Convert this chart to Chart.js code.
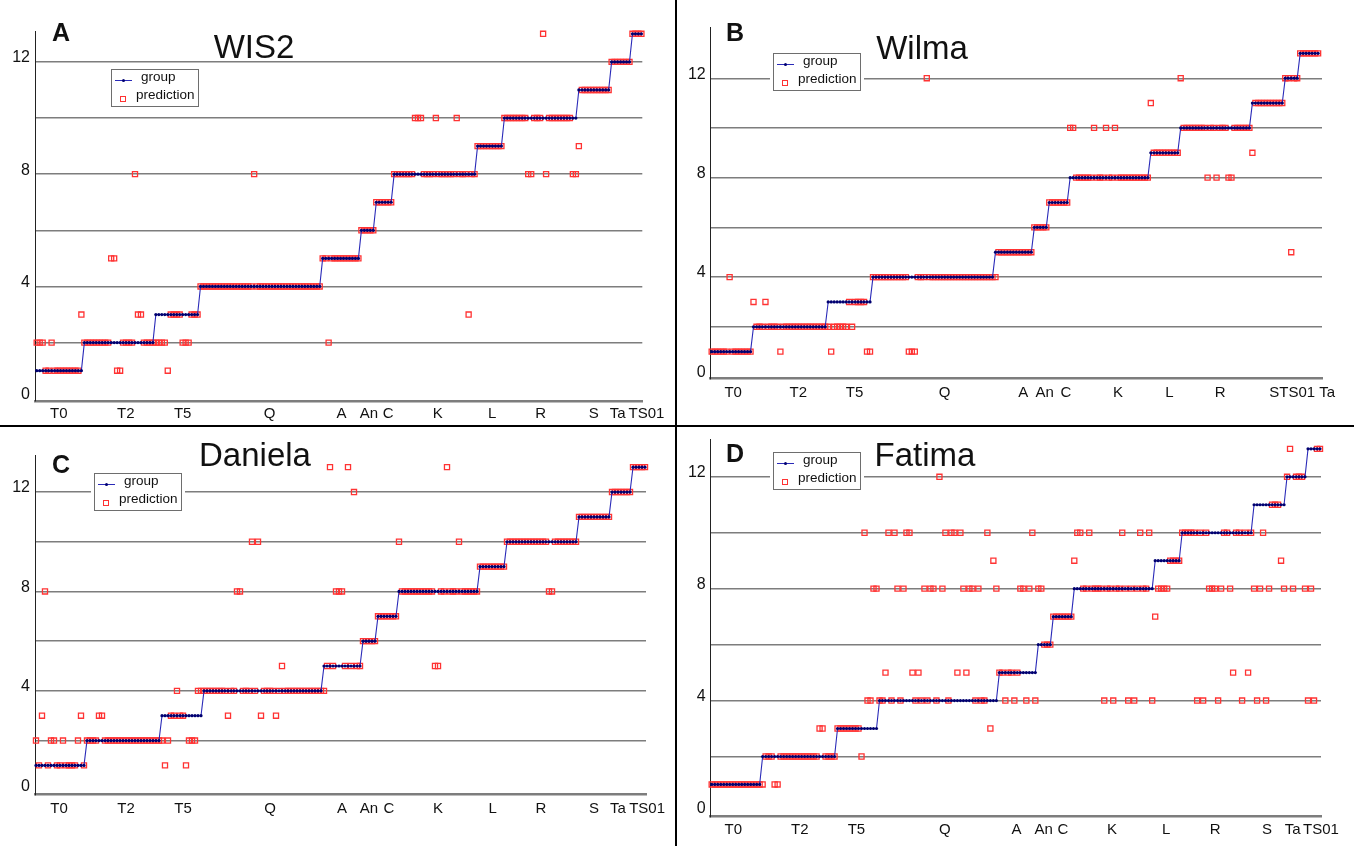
<!DOCTYPE html>
<html>
<head>
<meta charset="utf-8">
<script src="https://cdn.jsdelivr.net/npm/chart.js@4.4.1/dist/chart.umd.min.js"></script>
<style>
  html, body { margin: 0; padding: 0; background: #fff; }
  body { width: 1354px; height: 846px; position: relative; overflow: hidden; font-family: "Liberation Sans", Arial, sans-serif; color: #111; }
  .panel { position: absolute; }
  .title { position: absolute; font-size: 33px; line-height: 1; white-space: nowrap; transform: translateX(-50%); }
  .letter { position: absolute; font-size: 25px; font-weight: bold; line-height: 1; }
  .legend { position: absolute; width: 88px; height: 38px; box-sizing: border-box; border: 1.5px solid #6e6e6e; background: #fff; box-shadow: 0 0 0 3px #fff; }
  .lg-line { position: absolute; left: 2.5px; top: 9.5px; width: 17px; height: 1px; background: #2a2ab8; }
  .lg-line::after { content: ''; position: absolute; left: 7px; top: -1px; width: 3px; height: 3px; border-radius: 50%; background: #000070; }
  .lg-sq { position: absolute; left: 8px; top: 25.5px; width: 4px; height: 4px; border: 1.2px solid #ff3333; }
  .lg-t1, .lg-t2 { position: absolute; font-size: 13.5px; line-height: 16px; white-space: nowrap; }
  .lg-t1 { left: 29px; top: -1px; }
  .lg-t2 { left: 24px; top: 17px; }
  .sep { position: absolute; background: #000; }
</style>
</head>
<body>
<div class="panel" style="left:0;top:0;width:678px;height:425px"><canvas id="chartA"></canvas></div>
<div class="panel" style="left:678px;top:0;width:676px;height:425px"><canvas id="chartB"></canvas></div>
<div class="panel" style="left:0;top:425px;width:678px;height:421px"><canvas id="chartC"></canvas></div>
<div class="panel" style="left:678px;top:425px;width:676px;height:421px"><canvas id="chartD"></canvas></div>

<div class="letter" style="left:52px;top:19.5px">A</div>
<div class="letter" style="left:726px;top:19.5px">B</div>
<div class="letter" style="left:52px;top:451.5px">C</div>
<div class="letter" style="left:726px;top:441px">D</div>

<div class="title" style="left:254px;top:30px">WIS2</div>
<div class="title" style="left:922px;top:30.5px">Wilma</div>
<div class="title" style="left:255px;top:438px">Daniela</div>
<div class="title" style="left:925px;top:438px">Fatima</div>

<div class="legend" style="left:111px;top:69px"><div class="lg-line"></div><div class="lg-t1">group</div><div class="lg-sq"></div><div class="lg-t2">prediction</div></div>
<div class="legend" style="left:773px;top:53px"><div class="lg-line"></div><div class="lg-t1">group</div><div class="lg-sq"></div><div class="lg-t2">prediction</div></div>
<div class="legend" style="left:94px;top:473px"><div class="lg-line"></div><div class="lg-t1">group</div><div class="lg-sq"></div><div class="lg-t2">prediction</div></div>
<div class="legend" style="left:773px;top:452px"><div class="lg-line"></div><div class="lg-t1">group</div><div class="lg-sq"></div><div class="lg-t2">prediction</div></div>

<div class="sep" style="left:674.5px;top:0;width:2.5px;height:846px"></div>
<div class="sep" style="left:0;top:424.5px;width:1354px;height:2.5px"></div>

<script>
// category labels on the x axis, in sample-index units
const tickNames = ['T0', 'T2', 'T5', 'Q', 'A', 'An', 'C', 'K', 'L', 'R', 'S', 'Ta', 'TS01'];
const tickNamesB = ['T0', 'T2', 'T5', 'Q', 'A', 'An', 'C', 'K', 'L', 'R', 'S', 'TS01', 'Ta'];
const tickPosA = [7.4, 29.9, 49, 78.2, 102.3, 111.5, 118, 134.6, 152.9, 169.2, 187, 195, 204.7];
const tickPosB = [7.2, 29, 47.8, 78, 104.3, 111.5, 118.6, 136, 153.2, 170.2, 188.3, 196, 206];
const tickPosC = [7.7, 30, 49, 78, 102, 111, 117.6, 134, 152.2, 168.3, 186, 194, 203.7];
const tickPosD = [7.2, 29.4, 48.3, 77.8, 101.7, 110.8, 117.2, 133.6, 151.7, 168, 185.3, 193.9, 203.3];

const yGridValues = [0, 2, 4, 6, 8, 10, 12];
const yLabelValues = [0, 4, 8, 12];

// WIS2
const groupA = [
  1,1,1,1,1,1,1,1,1,1, 1,1,1,1,1,1,
  2,2,2,2,2,2,2,2,2,2, 2,2,2,2,2,2,2,2,2,2, 2,2,2,2,
  3,3,3,3,3,3,3,3,3,3, 3,3,3,3,3,
  4,4,4,4,4,4,4,4,4,4, 4,4,4,4,4,4,4,4,4,4, 4,4,4,4,4,4,4,4,4,4, 4,4,4,4,4,4,4,4,4,4, 4,
  5,5,5,5,5,5,5,5,5,5, 5,5,5,
  6,6,6,6,6,
  7,7,7,7,7,7,
  8,8,8,8,8,8,8,8,8,8, 8,8,8,8,8,8,8,8,8,8, 8,8,8,8,8,8,8,8,
  9,9,9,9,9,9,9,9,9,
  10,10,10,10,10,10,10,10,10,10, 10,10,10,10,10,10,10,10,10,10, 10,10,10,10,10,
  11,11,11,11,11,11,11,11,11,11, 11,
  12,12,12,12,12,12,12,
  13,13,13,13
];
const predA = [
  2,2,2,1,1,2,1,1,1,1, 1,1,1,1,1,3,
  2,2,2,2,2,2,2,2,2,5, 5,1,1,2,2,2,2,8,3,3, 2,2,2,2,
  2,2,2,2,1,3,3,3,3,2, 2,2,3,3,3,
  4,4,4,4,4,4,4,4,4,4, 4,4,4,4,4,4,4,4,8,4, 4,4,4,4,4,4,4,4,4,4, 4,4,4,4,4,4,4,4,4,4, 4,
  5,5,2,5,5,5,5,5,5,5, 5,5,5,
  6,6,6,6,6,
  7,7,7,7,7,7,
  8,8,8,8,8,8,8,10,10,10, 8,8,8,8,10,8,8,8,8,8, 8,10,8,8,8,3,8,8,
  9,9,9,9,9,9,9,9,9,
  10,10,10,10,10,10,10,10,8,8, 10,10,10,13,8,10,10,10,10,10, 10,10,10,8,8,
  9,11,11,11,11,11,11,11,11,11, 11,
  12,12,12,12,12,12,12,
  13,13,13,13
];

// Wilma
const groupB = [
  1,1,1,1,1,1,1,1,1,1, 1,1,1,1,
  2,2,2,2,2,2,2,2,2,2, 2,2,2,2,2,2,2,2,2,2, 2,2,2,2,2,
  3,3,3,3,3,3,3,3,3,3, 3,3,3,3,3,
  4,4,4,4,4,4,4,4,4,4, 4,4,4,4,4,4,4,4,4,4, 4,4,4,4,4,4,4,4,4,4, 4,4,4,4,4,4,4,4,4,4, 4,
  5,5,5,5,5,5,5,5,5,5, 5,5,5,
  6,6,6,6,6,
  7,7,7,7,7,7,7,
  8,8,8,8,8,8,8,8,8,8, 8,8,8,8,8,8,8,8,8,8, 8,8,8,8,8,8,8,
  9,9,9,9,9,9,9,9,9,9,
  10,10,10,10,10,10,10,10,10,10, 10,10,10,10,10,10,10,10,10,10, 10,10,10,10,
  11,11,11,11,11,11,11,11,11,11, 11,
  12,12,12,12,12,
  13,13,13,13,13,13,13
];
const predB = [
  1,1,1,1,1,1,4,1,1,1, 1,1,1,1,
  3,2,2,2,3,2,2,2,2,1, 2,2,2,2,2,2,2,2,2,2, 2,2,2,2,2,
  2,1,2,2,2,2,2,3,2,3, 3,3,3,1,1,
  4,4,4,4,4,4,4,4,4,4, 4,4,1,1,1,4,4,4,12,4, 4,4,4,4,4,4,4,4,4,4, 4,4,4,4,4,4,4,4,4,4, 4,
  4,5,5,5,5,5,5,5,5,5, 5,5,5,
  6,6,6,6,6,
  7,7,7,7,7,7,7,
  10,10,8,8,8,8,8,8,10,8, 8,8,10,8,8,10,8,8,8,8, 8,8,8,8,8,8,8,
  11,9,9,9,9,9,9,9,9,9,
  12,10,10,10,10,10,10,10,10,8, 10,10,8,10,10,10,8,8,10,10, 10,10,10,10,
  9,11,11,11,11,11,11,11,11,11, 11,
  12,12,5,12,12,
  13,13,13,13,13,13,13
];

// Daniela
const groupC = [
  1,1,1,1,1,1,1,1,1,1, 1,1,1,1,1,1,1,
  2,2,2,2,2,2,2,2,2,2, 2,2,2,2,2,2,2,2,2,2, 2,2,2,2,2,
  3,3,3,3,3,3,3,3,3,3, 3,3,3,3,
  4,4,4,4,4,4,4,4,4,4, 4,4,4,4,4,4,4,4,4,4, 4,4,4,4,4,4,4,4,4,4, 4,4,4,4,4,4,4,4,4,4,
  5,5,5,5,5,5,5,5,5,5, 5,5,5,
  6,6,6,6,6,
  7,7,7,7,7,7,7,
  8,8,8,8,8,8,8,8,8,8, 8,8,8,8,8,8,8,8,8,8, 8,8,8,8,8,8,8,
  9,9,9,9,9,9,9,9,9,
  10,10,10,10,10,10,10,10,10,10, 10,10,10,10,10,10,10,10,10,10, 10,10,10,10,
  11,11,11,11,11,11,11,11,11,11, 11,
  12,12,12,12,12,12,12,
  13,13,13,13,13
];
const predC = [
  2,1,3,8,1,2,2,1,1,2, 1,1,1,1,2,3,1,
  2,2,2,2,3,3,2,2,2,2, 2,2,2,2,2,2,2,2,2,2, 2,2,2,2,2,
  2,1,2,3,3,4,3,3,1,2, 2,2,4,4,
  4,4,4,4,4,4,4,4,3,4, 4,8,8,4,4,4,10,4,10,3, 4,4,4,4,3,4,5,4,4,4, 4,4,4,4,4,4,4,4,4,4,
  4,5,13,5,8,8,8,5,13,5, 12,5,5,
  6,6,6,6,6,
  7,7,7,7,7,7,7,
  10,8,8,8,8,8,8,8,8,8, 8,8,5,5,8,8,13,8,8,8, 10,8,8,8,8,8,8,
  9,9,9,9,9,9,9,9,9,
  10,10,10,10,10,10,10,10,10,10, 10,10,10,10,8,8,10,10,10,10, 10,10,10,10,
  11,11,11,11,11,11,11,11,11,11, 11,
  12,12,12,12,12,12,12,
  13,13,13,13,13
];

// Fatima
const groupD = [
  1,1,1,1,1,1,1,1,1,1, 1,1,1,1,1,1,1,
  2,2,2,2,2,2,2,2,2,2, 2,2,2,2,2,2,2,2,2,2, 2,2,2,2,2,
  3,3,3,3,3,3,3,3,3,3, 3,3,3,3,
  4,4,4,4,4,4,4,4,4,4, 4,4,4,4,4,4,4,4,4,4, 4,4,4,4,4,4,4,4,4,4, 4,4,4,4,4,4,4,4,4,4,
  5,5,5,5,5,5,5,5,5,5, 5,5,5,
  6,6,6,6,6,
  7,7,7,7,7,7,7,
  8,8,8,8,8,8,8,8,8,8, 8,8,8,8,8,8,8,8,8,8, 8,8,8,8,8,8,8,
  9,9,9,9,9,9,9,9,9,
  10,10,10,10,10,10,10,10,10,10, 10,10,10,10,10,10,10,10,10,10, 10,10,10,10,
  11,11,11,11,11,11,11,11,11,11, 11,
  12,12,12,12,12,12,12,
  13,13,13,13,13
];
const predD = [
  1,1,1,1,1,1,1,1,1,1, 1,1,1,1,1,1,1,
  1,2,2,2,1,1,2,2,2,2, 2,2,2,2,2,2,2,2,2,3, 3,2,2,2,2,
  3,3,3,3,3,3,3,3,2,10, 4,4,8,8,
  4,4,5,10,4,10,8,4,8,10, 10,5,4,5,4,8,4,8,8,4, 12,8,10,4,10,10,5,10,8,5, 8,8,4,8,4,4,10,3,9,8,
  5,5,4,5,5,4,5,8,8,4, 8,10,4,
  8,8,6,6,6,
  7,7,7,7,7,7,7,
  9,10,10,8,8,10,8,8,8,8, 4,8,8,4,8,8,10,8,4,8, 4,8,10,8,8,10,4,
  7,8,8,8,8,9,9,9,9,
  10,10,10,10,10,4,10,4,10,8, 8,8,4,8,10,10,8,5,10,10, 4,10,5,10,
  8,4,8,10,4,8,11,11,11,9, 8,
  12,13,8,12,12,12,8,
  4,8,4,13,13
];

Chart.defaults.font.family = '"Liberation Sans", Arial, sans-serif';
Chart.defaults.color = '#111';

function toPoints(values) {
  return values.map((v, i) => ({ x: i, y: v }));
}

function createPanel(canvasId, group, pred, names, ticks, frame) {
  const ctx = document.getElementById(canvasId);

  return new Chart(ctx, {
    type: 'line',
    data: {
      datasets: [
        {
          label: 'group',
          data: toPoints(group),
          borderColor: '#2a2ab8',
          borderWidth: 1.1,
          pointRadius: 1.6,
          pointBorderWidth: 0,
          pointBackgroundColor: '#000070',
          order: 1,
          clip: 8,
        },
        {
          label: 'prediction',
          data: toPoints(pred),
          showLine: false,
          pointStyle: 'rect',
          pointRadius: 3.6,
          pointBorderWidth: 1.3,
          pointBorderColor: '#ff3333',
          pointBackgroundColor: 'rgba(255,255,255,0)',
          order: 2,
          clip: 8,
        },
      ],
    },
    options: {
      animation: false,
      responsive: true,
      maintainAspectRatio: false,
      events: [],
      layout: {
        padding: { left: 0, right: frame.right, top: frame.top, bottom: 0 },
      },
      plugins: {
        legend: { display: false },
        tooltip: { enabled: false },
      },
      scales: {
        x: {
          type: 'linear',
          min: frame.xMin,
          max: frame.xMax,
          afterBuildTicks: (scale) => {
            scale.ticks = ticks.map((v) => ({ value: v }));
          },
          afterFit: (scale) => {
            scale.height = frame.xHeight;
          },
          grid: { display: false, drawTicks: false },
          border: { display: true, color: '#7d7d7d', width: 2.6 },
          ticks: {
            autoSkip: false,
            maxRotation: 0,
            padding: frame.xPad,
            font: { size: 15 },
            callback: (value, index) => names[index],
          },
        },
        y: {
          min: frame.yMin,
          max: frame.yMax,
          afterBuildTicks: (scale) => {
            scale.ticks = yGridValues.map((v) => ({ value: v }));
          },
          afterFit: (scale) => {
            scale.width = frame.yWidth;
          },
          grid: {
            color: (c) => (c.tick && c.tick.value === 0 ? 'rgba(0,0,0,0)' : '#7d7d7d'),
            lineWidth: 1.4,
            drawTicks: false,
          },
          border: { display: true, color: '#222', width: 1 },
          ticks: {
            padding: 5,
            labelOffset: -4,
            font: { size: 16 },
            callback: (value) => (yLabelValues.includes(value) ? String(value) : ''),
          },
        },
      },
    },
  });
}

createPanel('chartA', groupA, predA, tickNames, tickPosA, {
  top: 31, right: 35.7, xHeight: 24, yWidth: 35, xPad: 4,
  xMin: -0.57, xMax: 203.3, yMin: -0.08, yMax: 13.1,
});
createPanel('chartB', groupB, predB, tickNamesB, tickPosB, {
  top: 27, right: 32, xHeight: 46.5, yWidth: 32.7, xPad: 5,
  xMin: -0.33, xMax: 204.3, yMin: -0.08, yMax: 14.06,
});
createPanel('chartC', groupC, predC, tickNames, tickPosC, {
  top: 30, right: 32, xHeight: 51.5, yWidth: 35, xPad: 5,
  xMin: -0.33, xMax: 203.33, yMin: -0.17, yMax: 13.49,
});
createPanel('chartD', groupD, predD, tickNames, tickPosD, {
  top: 13.3, right: 33, xHeight: 29.8, yWidth: 32.7, xPad: 5,
  xMin: -0.33, xMax: 203.33, yMin: -0.135, yMax: 13.33,
});

const sizes = [groupA, predA, groupB, predB, groupC, predC, groupD, predD].map((a) => a.length);
if (new Set(sizes).size !== 1) {
  throw new Error('series length mismatch: ' + sizes.join(','));
}
</script>
</body>
</html>
